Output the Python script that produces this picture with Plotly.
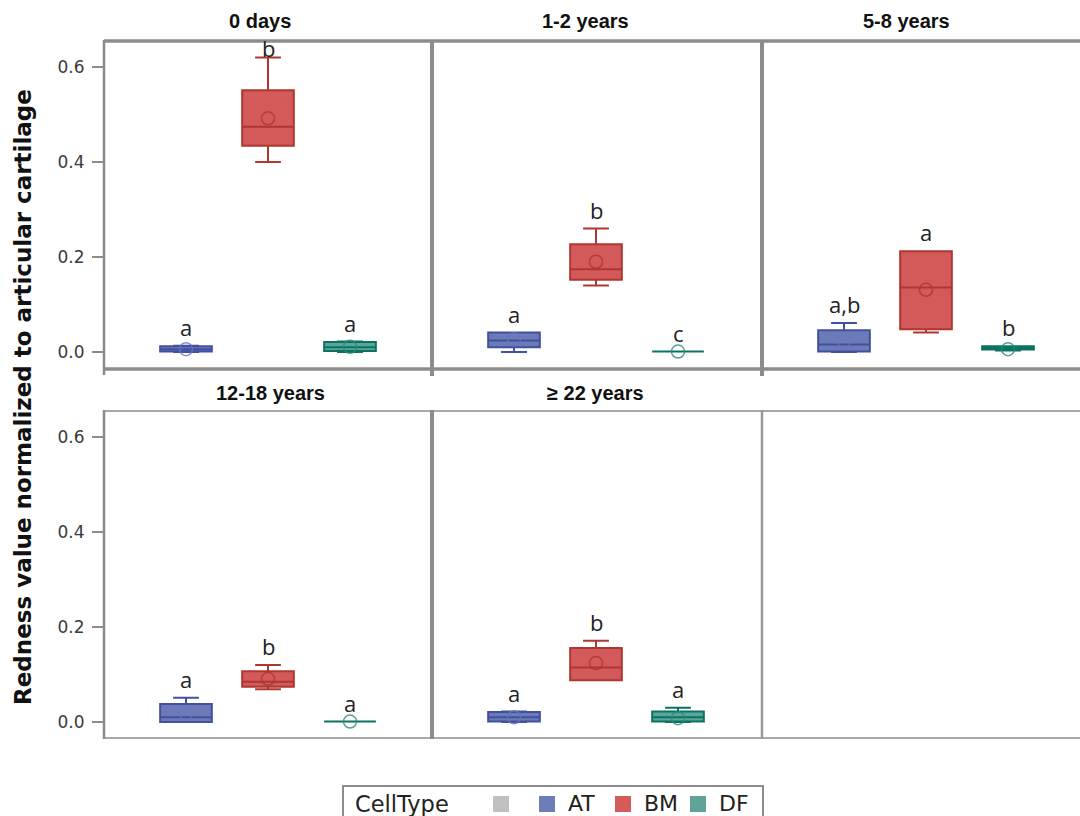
import plotly.graph_objects as go

# ---- data -------------------------------------------------------------
panels = ["0 days", "1-2 years", "5-8 years", "12-18 years", "≥ 22 years"]
cell_types = ["AT", "BM", "DF"]

# box statistics per panel, in cell-type order AT, BM, DF
lowerfence = [
    [0.000, 0.400, 0.000],
    [0.000, 0.140, 0.001],
    [0.000, 0.041, 0.003],
    [0.000, 0.069, 0.001],
    [0.000, 0.088, 0.000],
]
q1 = [
    [0.001, 0.434, 0.002],
    [0.010, 0.152, 0.001],
    [0.001, 0.048, 0.005],
    [0.000, 0.074, 0.001],
    [0.001, 0.088, 0.001],
]
median = [
    [0.006, 0.474, 0.010],
    [0.024, 0.174, 0.001],
    [0.016, 0.136, 0.008],
    [0.010, 0.085, 0.001],
    [0.010, 0.115, 0.010],
]
q3 = [
    [0.012, 0.551, 0.021],
    [0.041, 0.227, 0.001],
    [0.046, 0.212, 0.012],
    [0.038, 0.107, 0.001],
    [0.021, 0.156, 0.022],
]
upperfence = [
    [0.013, 0.620, 0.022],
    [0.041, 0.260, 0.001],
    [0.061, 0.212, 0.012],
    [0.051, 0.120, 0.001],
    [0.022, 0.171, 0.030],
]
means = [
    [0.006, 0.492, 0.011],
    [0.027, 0.190, 0.001],
    [0.022, 0.131, 0.006],
    [0.018, 0.091, 0.001],
    [0.010, 0.124, 0.008],
]
letters = [
    ["a", "b", "a"],
    ["a", "b", "c"],
    ["a,b", "a", "b"],
    ["a", "b", "a"],
    ["a", "b", "a"],
]

y_ticks = [0.0, 0.2, 0.4, 0.6]
y_tick_text = ["0.0", "0.2", "0.4", "0.6"]

# ---- styling ----------------------------------------------------------
W, H = 1080, 816
fill = {"AT": "#6C7BB8", "BM": "#D35A5A", "DF": "#5AA69B"}
edge = {"AT": "#41519E", "BM": "#B0372F", "DF": "#0B7262"}
mean_col = {"AT": "#6675BE", "BM": "#A8362F", "DF": "#2A8A7A"}
swatch = {"AT": "#6D7DB8", "BM": "#D55B5B", "DF": "#5EA49B"}
frame_dark = "#8C8C8C"
frame_light = "#A9A9A9"
letter_cap = 0.60  # keep group letters inside the panel frame


def px(x):
    return x / W


def py(y):
    return 1 - y / H


# panel frames in pixels: (left, right, top, bottom)
col_edges = [(104, 432), (432, 762), (762, 1080)]
row_edges = [(41, 369), (411, 738)]
unit_px = 82.0  # pixels per category step

fig = go.Figure()

for i, name in enumerate(panels):
    r, c = divmod(i, 3)
    n = i + 1
    xa = "x" if n == 1 else f"x{n}"
    ya = "y" if n == 1 else f"y{n}"
    for j, ct in enumerate(cell_types):
        fig.add_trace(go.Box(
            x=[ct], q1=[q1[i][j]], median=[median[i][j]], q3=[q3[i][j]],
            lowerfence=[lowerfence[i][j]], upperfence=[upperfence[i][j]],
            boxpoints=False, width=0.63, whiskerwidth=0.5,
            fillcolor=fill[ct], line=dict(color=edge[ct], width=2),
            xaxis=xa, yaxis=ya, showlegend=False, hoverinfo="skip",
        ))
        fig.add_trace(go.Scatter(
            x=[ct], y=[means[i][j]], mode="markers",
            marker=dict(symbol="circle-open", size=13, color=mean_col[ct],
                        line=dict(color=mean_col[ct], width=1.5),
                        opacity=0.8),
            xaxis=xa, yaxis=ya, showlegend=False, hoverinfo="skip",
        ))
        fig.add_annotation(
            x=ct, y=min(upperfence[i][j], letter_cap), xref=xa, yref=ya,
            text=letters[i][j], showarrow=False, yanchor="bottom", yshift=2,
            font=dict(family="Open Sans", size=22, color="#222222"),
        )

# axes
y_ranges = [(-17 / 475, 311 / 475), (-16 / 475, 311 / 475)]
for n in range(1, 7):
    r, c = divmod(n - 1, 3)
    left, right = col_edges[c]
    top, bottom = row_edges[r]
    width_units = (right - left) / unit_px
    xkey = "xaxis" if n == 1 else f"xaxis{n}"
    ykey = "yaxis" if n == 1 else f"yaxis{n}"
    fig.update_layout({
        xkey: dict(domain=[px(left), px(right)], type="category",
                   categoryorder="array", categoryarray=cell_types,
                   range=[-1, -1 + width_units], showgrid=False,
                   zeroline=False, showticklabels=False, ticks="",
                   showline=False, fixedrange=True,
                   anchor="y" if n == 1 else f"y{n}"),
        ykey: dict(domain=[py(bottom), py(top)], range=list(y_ranges[r]),
                   showgrid=False, zeroline=False, showline=False,
                   tickvals=y_ticks, ticktext=y_tick_text,
                   showticklabels=(c == 0), ticks="outside" if c == 0 else "",
                   ticklen=11, tickwidth=2, tickcolor=frame_dark,
                   ticklabelstandoff=4,
                   tickfont=dict(family="DejaVu Sans", size=17, color="#3A3A3A"),
                   fixedrange=True,
                   anchor="x" if n == 1 else f"x{n}"),
    })

shapes = []


def hline(x0, x1, y, w, color):
    shapes.append(dict(type="line", xref="paper", yref="paper",
                       x0=px(x0), x1=px(x1), y0=py(y), y1=py(y),
                       line=dict(color=color, width=w)))


def vline(x, y0, y1, w, color):
    shapes.append(dict(type="line", xref="paper", yref="paper",
                       x0=px(x), x1=px(x), y0=py(y0), y1=py(y1),
                       line=dict(color=color, width=w)))


# top row frame
hline(104, 1082, 41, 3.5, frame_dark)
hline(104, 1082, 369, 3.5, frame_dark)
vline(104, 40, 375, 2.5, frame_dark)
vline(432, 40, 376, 4, frame_dark)
vline(762, 40, 376, 4, frame_dark)
# bottom row frame
hline(104, 1082, 411, 2, frame_light)
hline(104, 1082, 738, 2, frame_light)
vline(104, 410, 739, 2.5, frame_dark)
vline(432, 410, 739, 4, frame_dark)
vline(762, 410, 739, 2.5, "#999999")

# legend
shapes.append(dict(type="rect", xref="paper", yref="paper",
                   x0=px(343), x1=px(763), y0=py(832), y1=py(786),
                   line=dict(color=frame_dark, width=2), fillcolor="white"))
legend_items = [("", "#C0C0C0", 493)] + [
    (ct, swatch[ct], x) for ct, x in zip(cell_types, [539, 615, 690])]
for label, color, x0 in legend_items:
    shapes.append(dict(type="rect", xref="paper", yref="paper",
                       x0=px(x0), x1=px(x0 + 16), y0=py(812), y1=py(796),
                       line=dict(width=0), fillcolor=color))
    if label:
        fig.add_annotation(x=px(x0 + 27), y=py(803.5), xref="paper",
                           yref="paper", text=label, showarrow=False,
                           xanchor="left", yanchor="middle",
                           font=dict(family="DejaVu Sans", size=22,
                                     color="#222222"))
fig.add_annotation(x=px(353), y=py(803.5), xref="paper", yref="paper",
                   text="CellType", showarrow=False, xanchor="left",
                   yanchor="middle",
                   font=dict(family="DejaVu Sans", size=22.5, color="#222222"))

# panel titles
title_pos = [(260, 21), (585, 21), (906, 21), (270, 393), (595, 393)]
for name, (tx, ty) in zip(panels, title_pos):
    fig.add_annotation(x=px(tx), y=py(ty), xref="paper", yref="paper",
                       text=f"<b>{name}</b>", showarrow=False,
                       xanchor="center", yanchor="middle",
                       font=dict(family="Liberation Sans", size=20,
                                 color="#111111"))

# y-axis title
fig.add_annotation(x=px(23), y=py(397), xref="paper", yref="paper",
                   text="<b>Redness value normalized to articular cartilage</b>",
                   textangle=-90, showarrow=False, xanchor="center",
                   yanchor="middle",
                   font=dict(family="DejaVu Sans", size=23, color="#111111"))

fig.update_layout(
    width=W, height=H, margin=dict(l=0, r=0, t=0, b=0),
    paper_bgcolor="white", plot_bgcolor="white",
    shapes=shapes, showlegend=False,
)

fig.write_html("out.html")
